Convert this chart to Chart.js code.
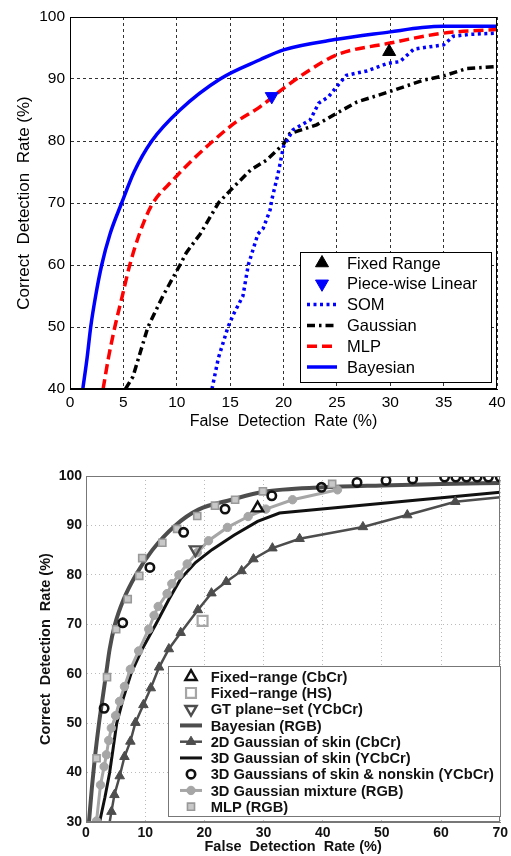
<!DOCTYPE html>
<html>
<head>
<meta charset="utf-8">
<script src="https://cdn.jsdelivr.net/npm/chart.js"></script>
<style>
html,body{margin:0;padding:0;background:#fff}
#wrap{position:relative;width:511px;height:856px;overflow:hidden}
canvas{position:absolute;left:0}
#topChart{top:0}
#botChart{top:435px}
</style>
</head>
<body>
<div id="wrap">
<canvas id="topChart" width="511" height="435"></canvas>
<canvas id="botChart" width="511" height="421"></canvas>
</div>
<script>

// ---- top chart data (x = false detection %, y = correct detection %)
const topXTicks=[0,5,10,15,20,25,30,35,40]
const topYTicks=[40,50,60,70,80,90,100]

const fixedRangeTop=[[29.9,94.4]]
const pieceWiseTop=[[18.9,87.2]]
const somTop=[[13.3,40],[13.9,45],[14.8,50],[15.3,52],[16.2,55],[16.7,60],[17.6,65],[18.1,65.9],[18.4,67.3],[18.75,68.9],[18.9,70.5],[19.5,74.8],[20,79.1],[20.9,81.8],[22.5,83.4],[23.3,86.1],[24.2,87.1],[25,88.8],[25.9,90.6],[27.8,91.3],[29.7,92.5],[30.9,92.8],[32.2,94.8],[33.7,95.2],[35,95.5],[35.9,96.9],[37.5,97.2],[40,97.4]]
const gaussTop=[[5.2,40],[5.9,42],[6.6,46],[7.3,50],[8.7,55],[10.3,60],[10.9,62],[12.2,65],[13.9,70],[15,72],[16.9,75.3],[18.4,76.9],[20,79.5],[20.6,81.2],[23.1,82.6],[25,84.5],[26.9,86.3],[30,88],[33.1,89.8],[35,90.5],[37.2,91.7],[40,92]]
const mlpTop=[[3.1,40],[3.6,45],[4.2,50],[4.9,55],[5.6,60],[6.5,65],[7.6,69.5],[9.7,73.8],[11.5,77],[13.4,80],[15.5,83],[17.8,85.5],[20,88.5],[22.5,91.5],[25,93.9],[30,95.8],[35,97.4],[40,98]]
const bayesTop=[[1.2,40],[1.6,45],[1.94,50],[2.4,55],[2.97,60],[3.75,65],[4.84,70],[6.0,75],[7.66,80],[10.3,85],[14.06,90],[17.8,93.1],[20,94.7],[25,96.4],[30,97.6],[33,98.3],[35,98.5],[40,98.5]]

// ---- bottom chart data
const botXTicks=[0,10,20,30,40,50,60,70]
const botYTicks=[30,40,50,60,70,80,90,100]

const fixedCbCr=[[29,93.5]]
const fixedHS=[[19.7,70.7]]
const gtPlane=[[18.5,85.1]]
const bayesRGB=[[0.5,30],[1.0,37],[1.5,43],[2.2,50],[2.8,55],[3.4,60],[4.0,65],[4.9,70],[6.35,75],[8.45,80],[11.2,85],[15.1,90],[19,93.2],[24.6,95.2],[30,96.8],[40,97.7],[50,98.1],[60,98.4],[70,98.6]]
const gauss2D=[[4,30],[4.3,32.1],[4.8,35.5],[5.7,39.3],[6.5,43.2],[7.5,46.3],[8.35,50.1],[9.7,53.7],[10.95,57.1],[12.35,61.3],[14,65],[16,68.3],[18.9,72.9],[21.2,76.3],[23.7,78.6],[26.3,80.8],[28.3,83.2],[31.5,85.4],[36.1,87.3],[46.8,89.7],[54.3,92.1],[62.4,94.8],[70,95.7]]
const gauss3D=[[2.3,30],[3.2,35],[4,40],[4.6,45],[5.2,50],[6.3,55],[7.6,60],[9.5,65],[11.8,70],[14,75],[16,79.2],[18.5,82.5],[21.3,85.1],[25,88],[29,90.8],[32.7,92.5],[70,96.7]]
const gaussSkinNon=[[3.06,53],[6.2,70.3],[10.8,81.5],[16.5,88.6],[23.5,93.3],[31.4,96],[39.8,97.7],[45.8,98.7],[50.7,99.1],[55.2,99.4],[60.6,99.8],[62.5,99.8],[64.3,99.8],[66.1,99.8],[68,99.8],[70,99.8]]
const gaussMix=[[1.78,30.2],[2.45,37.5],[3.06,41.2],[3.45,43.6],[3.84,46.5],[4.28,49],[5,51.5],[5.67,54.4],[6.5,57.4],[7.5,60.9],[8.9,64.6],[10.6,69],[11.5,71.8],[12.2,73.6],[13.7,76.2],[14.5,78.2],[15.7,80],[17.1,82.2],[18.8,84.5],[20.7,86.9],[23.9,89.6],[27.4,91.8],[30.4,93.3],[34.9,95.2],[42.5,97.2]]
const mlpRGB=[[1.78,42.9],[3.55,59.3],[5.1,69],[7.05,75.1],[9,79.8],[9.5,83.4],[12.9,86.5],[15.4,89.3],[18.8,91.9],[21.8,94],[25.2,95.2],[29.9,96.9],[41.6,98.4]]

const pts=a=>a.map(p=>({x:p[0],y:p[1]}))

// frame round the plot area + legend box drawn inside it
const framePlugin={
id:"frame",
afterDatasetsDraw(chart,args,o){
const ctx=chart.ctx
const a=chart.chartArea
ctx.save()
ctx.strokeStyle=o.color
ctx.lineWidth=1
ctx.strokeRect(Math.round(a.left)+0.5,Math.round(a.top)+0.5,Math.round(a.right-a.left)-1,Math.round(a.bottom-a.top)-1)
const L=o.legend
ctx.fillStyle="#fff"
ctx.fillRect(L.x,L.y,L.w,L.h)
ctx.strokeStyle=L.border
ctx.lineWidth=1
ctx.strokeRect(L.x+0.5,L.y+0.5,L.w,L.h)
ctx.font=L.font
ctx.textBaseline="middle"
ctx.textAlign="left"
chart.data.datasets.forEach((ds,i)=>{
const y=L.rowY+i*L.rowH
if(ds.showLine!==false&&ds.borderWidth>0){
ctx.save()
ctx.strokeStyle=ds.borderColor
ctx.lineWidth=ds.borderWidth
ctx.setLineDash(ds.borderDash||[])
ctx.beginPath()
ctx.moveTo(L.symX0,y)
ctx.lineTo(L.symX1,y)
ctx.stroke()
ctx.restore()
}
const r=Array.isArray(ds.pointRadius)?Math.max(...ds.pointRadius):ds.pointRadius
if(r>0){
ctx.save()
ctx.fillStyle=ds.pointBackgroundColor
ctx.strokeStyle=ds.pointBorderColor
ctx.lineWidth=ds.pointBorderWidth
ctx.setLineDash([])
Chart.helpers.drawPoint(ctx,{pointStyle:ds.pointStyle,rotation:ds.pointRotation||0,radius:r,borderWidth:ds.pointBorderWidth},(L.symX0+L.symX1)/2,y)
ctx.restore()
}
ctx.fillStyle=L.color
ctx.fillText(ds.label,L.textX,y+1)
})
ctx.restore()
}
}

// ---- top chart
const topFont="'Liberation Sans', Arial, sans-serif"

function lineSet(label,data,color,width,dash){
return {label:label,data:pts(data),borderColor:color,backgroundColor:color,borderWidth:width,borderDash:dash,pointRadius:0,pointBorderWidth:0,tension:0,fill:false}
}
function markSet(label,data,style,r,fill,stroke,bw,rot){
return {label:label,data:pts(data),showLine:false,pointStyle:style,pointRadius:r,pointHoverRadius:r,pointBackgroundColor:fill,pointBorderColor:stroke,pointBorderWidth:bw,pointRotation:rot||0,borderWidth:0,borderColor:stroke,backgroundColor:fill}
}

new Chart(document.getElementById("topChart"),{
type:"scatter",
data:{datasets:[
markSet("Fixed Range",fixedRangeTop,"triangle",7.5,"#000","#000",1),
markSet("Piece-wise Linear",pieceWiseTop,"triangle",7.5,"#0000ff","#0000ff",1,180),
Object.assign(lineSet("SOM",somTop,"#0000ff",3.5,[3,3.5]),{showLine:true}),
Object.assign(lineSet("Gaussian",gaussTop,"#000",3.5,[8,4,2.5,4]),{showLine:true}),
Object.assign(lineSet("MLP",mlpTop,"#ff0000",3.5,[10,5]),{showLine:true,cubicInterpolationMode:"monotone"}),
Object.assign(lineSet("Bayesian",bayesTop,"#0000ff",3.5,[]),{showLine:true,cubicInterpolationMode:"monotone"})
]},
options:{
responsive:false,
animation:false,
layout:{padding:{top:17,right:14,left:0,bottom:0}},
plugins:{
legend:{display:false},
tooltip:{enabled:false},
frame:{color:"#000",legend:{x:300,y:252,w:191,h:130,border:"#000",font:"16.5px "+topFont,color:"#000",rowY:263,rowH:20.8,symX0:307,symX1:337,textX:347}}
},
scales:{
x:{type:"linear",min:0,max:40,
afterBuildTicks:s=>{s.ticks=topXTicks.map(v=>({value:v}))},
afterFit:s=>{s.height=46},
ticks:{color:"#000",padding:4,font:{size:15.5,family:topFont}},
title:{display:true,text:"False  Detection  Rate (%)",color:"#000",font:{size:16,family:topFont},padding:{top:0,bottom:3.7}},
grid:{color:"#333",lineWidth:1,drawTicks:false},
border:{display:true,color:"#000",width:1,dash:[3,3]}
},
y:{type:"linear",min:40,max:100,
afterBuildTicks:s=>{s.ticks=topYTicks.map(v=>({value:v}))},
afterFit:s=>{s.width=70},
ticks:{color:"#000",padding:5,font:{size:15.5,family:topFont}},
title:{display:true,text:"Correct  Detection  Rate (%)",color:"#000",font:{size:17,family:topFont},padding:{top:14,bottom:0}},
grid:{color:"#333",lineWidth:1,drawTicks:false},
border:{display:true,color:"#000",width:1,dash:[3,3]}
}
}
},
plugins:[framePlugin]
})

// ---- bottom chart
const dark="#4d4d4d"
const light="#a6a6a6"
const botFont="'Liberation Sans', Arial, sans-serif"

const tri2D=gauss2D.map((p,i)=>(i===0||i===gauss2D.length-1)?0:5.5)

new Chart(document.getElementById("botChart"),{
type:"scatter",
data:{datasets:[
Object.assign(markSet("Fixed\u2212range (CbCr)",fixedCbCr,"triangle",6.5,"rgba(255,255,255,0)","#111",2.4),{order:0}),
Object.assign(markSet("Fixed\u2212range (HS)",fixedHS,"rect",7,"rgba(255,255,255,0)",light,2.2),{order:0}),
Object.assign(markSet("GT plane\u2212set (YCbCr)",gtPlane,"triangle",6.5,"rgba(255,255,255,0)",dark,2.4,180),{order:0}),
Object.assign(lineSet("Bayesian (RGB)",bayesRGB,dark,4,[]),{showLine:true,cubicInterpolationMode:"monotone",order:5}),
{label:"2D Gaussian of skin (CbCr)",data:pts(gauss2D),showLine:true,borderColor:dark,backgroundColor:dark,borderWidth:2.5,pointStyle:"triangle",pointRadius:tri2D,pointBackgroundColor:dark,pointBorderColor:dark,pointBorderWidth:1,tension:0,order:3},
Object.assign(lineSet("3D Gaussian of skin (YCbCr)",gauss3D,"#111",3,[]),{showLine:true,order:4}),
Object.assign(markSet("3D Gaussians of skin & nonskin (YCbCr)",gaussSkinNon,"circle",4.2,"rgba(255,255,255,0)","#111",2.6),{order:1}),
{label:"3D Gaussian mixture (RGB)",data:pts(gaussMix),showLine:true,borderColor:light,backgroundColor:light,borderWidth:3,pointStyle:"circle",pointRadius:4.2,pointBackgroundColor:light,pointBorderColor:light,pointBorderWidth:1,tension:0,order:2},
Object.assign(markSet("MLP (RGB)",mlpRGB,"rect",5,"#c8c8c8","#999",1.6),{order:1})
]},
options:{
responsive:false,
animation:false,
layout:{padding:{top:41,right:6,left:0,bottom:0}},
plugins:{
legend:{display:false},
tooltip:{enabled:false},
frame:{color:"#777",legend:{x:168,y:231,w:332,h:150,border:"#777",font:"bold 14.7px "+botFont,color:"#111",rowY:241.7,rowH:16.25,symX0:180,symX1:202,textX:210.7}}
},
scales:{
x:{type:"linear",min:0,max:70,
afterBuildTicks:s=>{s.ticks=botXTicks.map(v=>({value:v}))},
afterFit:s=>{s.height=34},
ticks:{color:"#111",padding:3,font:{size:14,weight:"bold",family:botFont}},
title:{display:true,text:"False  Detection  Rate (%)",color:"#111",font:{size:14.5,weight:"bold",family:botFont},padding:{top:0,bottom:0}},
grid:{color:"#bbb",lineWidth:1,drawTicks:false},
border:{display:true,color:"#777",width:1,dash:[1,3]}
},
y:{type:"linear",min:30,max:100,
afterBuildTicks:s=>{s.ticks=botYTicks.map(v=>({value:v}))},
afterFit:s=>{s.width=86},
ticks:{color:"#111",padding:4,font:{size:14,weight:"bold",family:botFont}},
title:{display:true,text:"Correct  Detection  Rate (%)",color:"#111",font:{size:14.5,weight:"bold",family:botFont},padding:{top:37.3,bottom:0}},
grid:{color:"#bbb",lineWidth:1,drawTicks:false},
border:{display:true,color:"#777",width:1,dash:[1,3]}
}
}
},
plugins:[framePlugin]
})

</script>
</body>
</html>
